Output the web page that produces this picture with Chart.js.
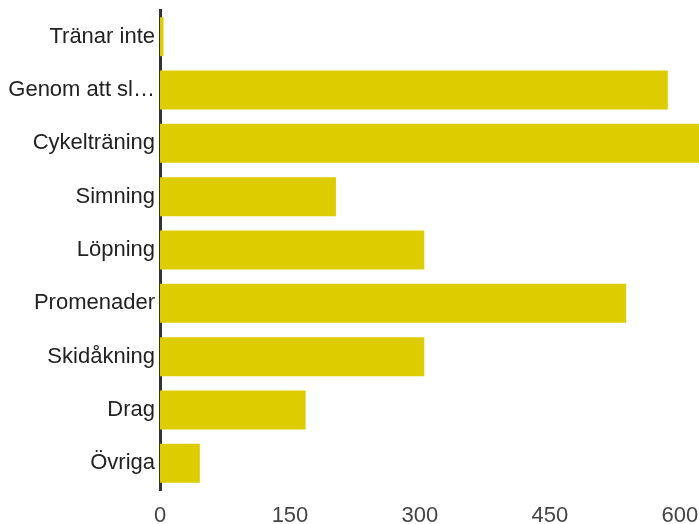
<!DOCTYPE html>
<html>
<head>
<meta charset="utf-8">
<script src="https://cdn.jsdelivr.net/npm/chart.js@4.4.1/dist/chart.umd.min.js"></script>
<style>
  html, body { margin: 0; padding: 0; background: #fff; }
  #wrap { width: 699px; height: 524px; }
</style>
</head>
<body>
<div id="wrap"><canvas id="chart" width="699" height="524"></canvas></div>
<script>
const categories = ['Tränar inte', 'Genom att sl…', 'Cykelträning', 'Simning', 'Löpning', 'Promenader', 'Skidåkning', 'Drag', 'Övriga'];
const values = [4, 586, 640, 203, 305, 538, 305, 168, 46];
const xTicks = [0, 150, 300, 450, 600];

const barColor = '#dccc00';
const font = { family: "Arial, 'Liberation Sans', sans-serif", size: 22 };

// no extra padding from tick labels, chart area goes to the edges
const noPad = (scale) => {
  scale.paddingLeft = 0;
  scale.paddingRight = 0;
  scale.paddingTop = 0;
  scale.paddingBottom = 0;
};

const ctx = document.getElementById('chart').getContext('2d');
new Chart(ctx, {
  type: 'bar',
  data: {
    labels: categories,
    datasets: [{
      data: values,
      backgroundColor: barColor,
      borderWidth: 0,
      barPercentage: 0.73,
      categoryPercentage: 1
    }]
  },
  options: {
    indexAxis: 'y',
    responsive: false,
    animation: false,
    layout: { padding: { top: 10, right: 0, bottom: 0, left: 0 } },
    plugins: { legend: { display: false }, tooltip: { enabled: false } },
    scales: {
      x: {
        min: 0,
        max: 622,
        grid: { display: false, drawTicks: false },
        border: { display: false },
        afterBuildTicks: (scale) => { scale.ticks = xTicks.map(v => ({ value: v })); },
        afterFit: (scale) => { scale.height = 34; noPad(scale); },
        ticks: { color: '#444', font, padding: 13, maxRotation: 0 }
      },
      y: {
        grid: { display: false, drawTicks: false },
        border: { display: true, color: '#333', width: 3 },
        afterFit: (scale) => { scale.width = 160; noPad(scale); },
        ticks: { color: '#222', font, padding: 5, autoSkip: false }
      }
    }
  }
});
</script>
</body>
</html>
